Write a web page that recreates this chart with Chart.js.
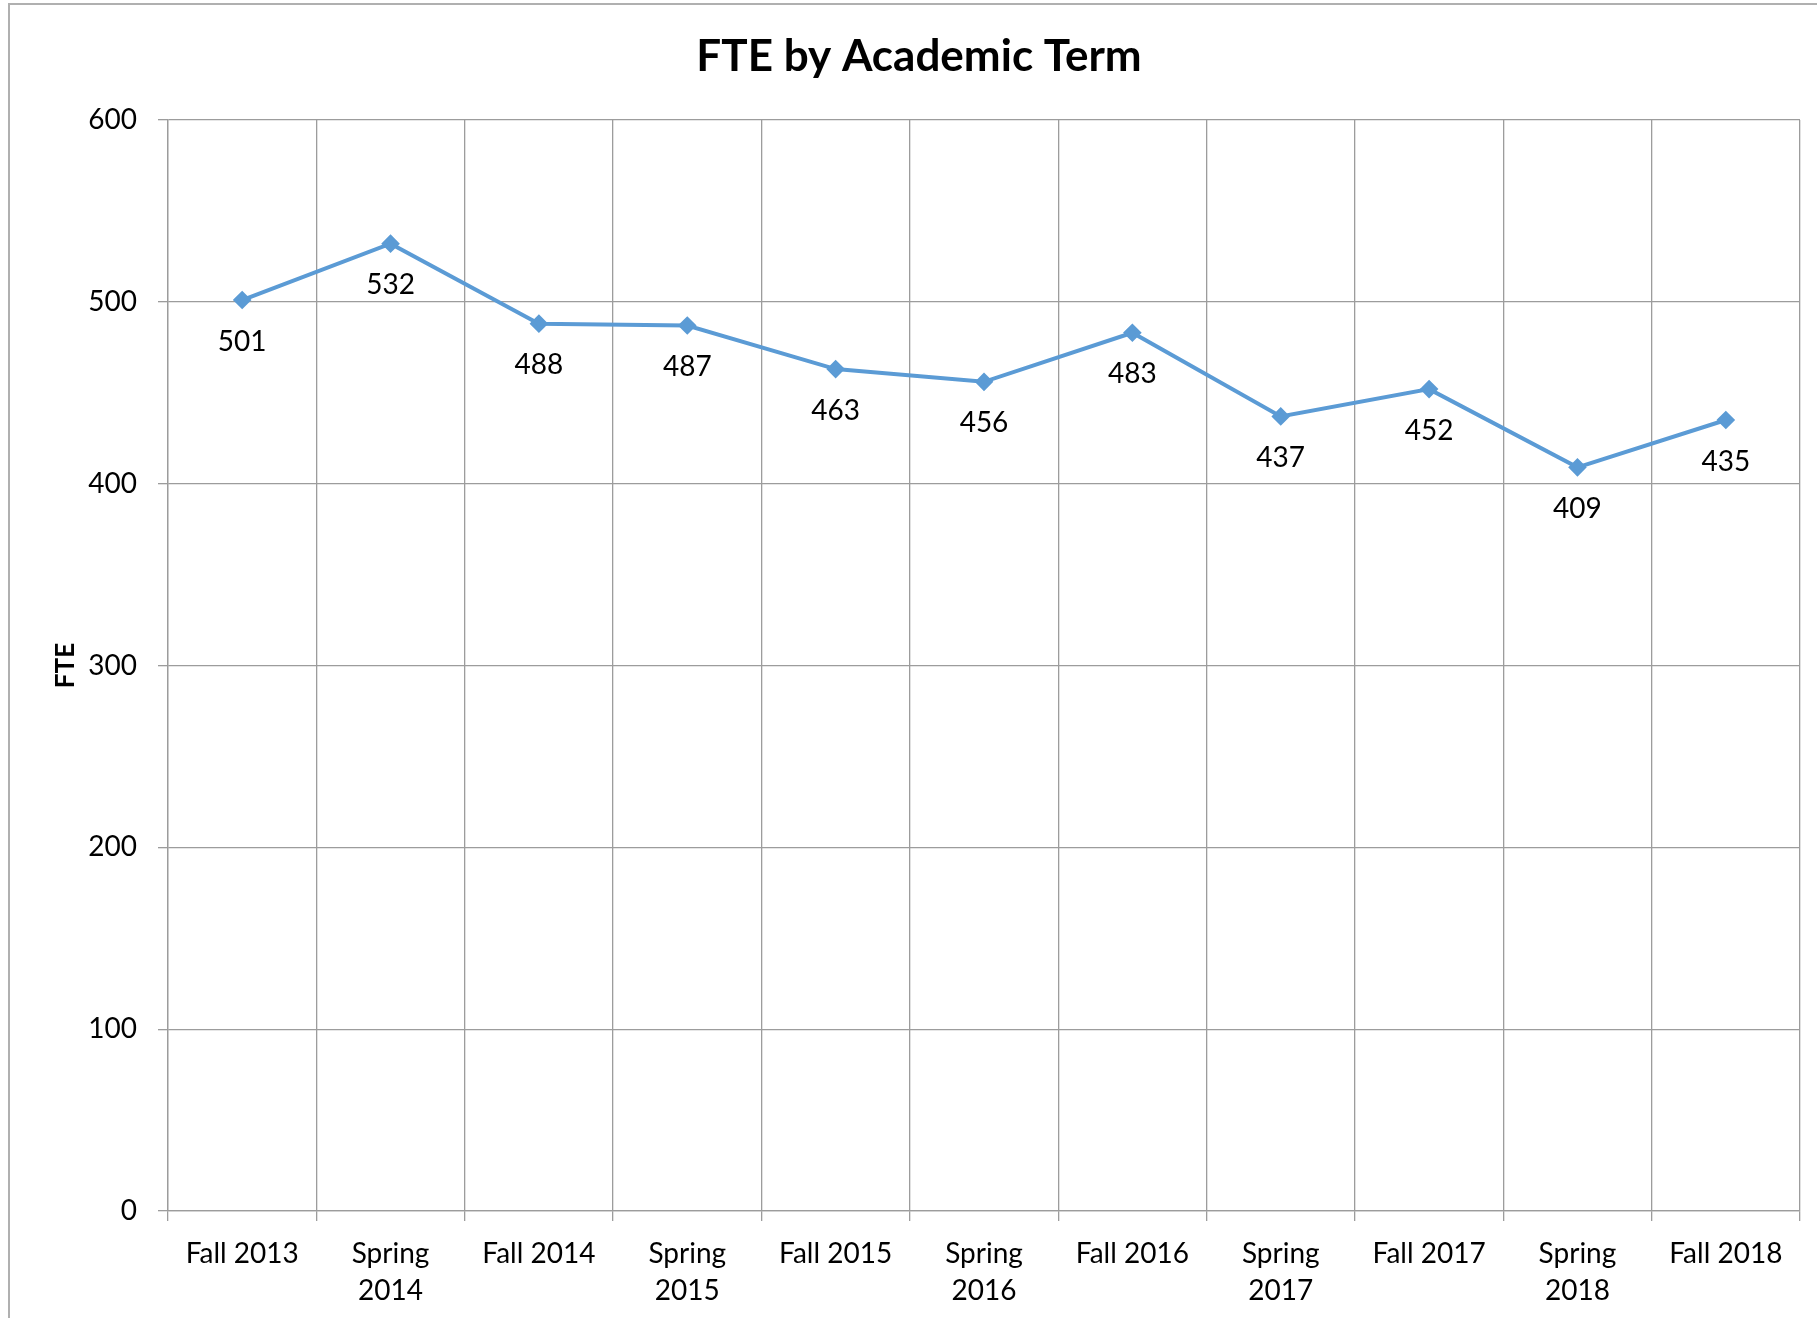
<!DOCTYPE html>
<html>
<head>
<meta charset="utf-8">
<script src="https://cdn.jsdelivr.net/npm/chart.js@4.4.1/dist/chart.umd.min.js"></script>
<style>
  html, body { margin: 0; padding: 0; background: #fff; }
  #wrap { width: 1817px; height: 1318px; position: relative; }
</style>
</head>
<body>
<div id="wrap"><canvas id="c"></canvas></div>
<script>
const categories = [
  "Fall 2013", ["Spring", "2014"], "Fall 2014", ["Spring", "2015"], "Fall 2015",
  ["Spring", "2016"], "Fall 2016", ["Spring", "2017"], "Fall 2017", ["Spring", "2018"], "Fall 2018"
];
const fteValues = [501, 532, 488, 487, 463, 456, 483, 437, 452, 409, 435];
const yTicks = [0, 100, 200, 300, 400, 500, 600];

const FONT = "Lato, 'Open Sans', sans-serif";
const GRID = "#9c9c9c";
const LINE = "#5b9bd5";

const frame = {
  id: "frame",
  beforeDraw(chart) {
    const ctx = chart.ctx;
    ctx.save();
    ctx.strokeStyle = "#b0b0b0";
    ctx.lineWidth = 2;
    ctx.beginPath();
    ctx.moveTo(9, 1318);
    ctx.lineTo(9, 4);
    ctx.lineTo(1817, 4);
    ctx.stroke();
    ctx.restore();
  }
};

const valueLabels = {
  id: "valueLabels",
  afterDatasetsDraw(chart) {
    const ctx = chart.ctx;
    const meta = chart.getDatasetMeta(0);
    const data = chart.data.datasets[0].data;
    ctx.save();
    ctx.font = "28px " + FONT;
    ctx.fillStyle = "#000";
    ctx.textAlign = "center";
    ctx.textBaseline = "middle";
    meta.data.forEach((pt, i) => {
      ctx.fillText(String(data[i]), pt.x, pt.y + 41.5);
    });
    ctx.restore();
  }
};

new Chart(document.getElementById("c"), {
  type: "line",
  data: {
    labels: categories,
    datasets: [{
      label: "FTE",
      data: fteValues,
      borderColor: LINE,
      backgroundColor: LINE,
      borderWidth: 4,
      pointStyle: "rectRot",
      pointRadius: 6.5,
      pointHoverRadius: 6.5,
      pointBackgroundColor: LINE,
      pointBorderColor: LINE,
      tension: 0,
      fill: false
    }]
  },
  options: {
    responsive: true,
    maintainAspectRatio: false,
    animation: false,
    layout: { padding: { left: 38, right: 17, top: 0, bottom: 0 } },
    plugins: {
      legend: { display: false },
      tooltip: { enabled: false },
      title: {
        display: true,
        text: "FTE by Academic Term",
        color: "#000",
        font: { family: FONT, size: 44, weight: "bold", lineHeight: 1.2 },
        padding: { top: 30.6, bottom: 36.6 }
      }
    },
    scales: {
      x: {
        offset: true,
        grid: { offset: true, color: GRID, lineWidth: 1.3, tickLength: 10, drawTicks: true },
        border: { color: GRID, width: 1.3 },
        ticks: {
          color: "#000",
          font: { family: FONT, size: 28, lineHeight: 1.34 },
          padding: 14,
          maxRotation: 0,
          autoSkip: false
        },
        afterFit(scale) { scale.height = 107; }
      },
      y: {
        min: 0,
        max: 600,
        afterBuildTicks(scale) { scale.ticks = yTicks.map(v => ({ value: v })); },
        grid: { color: GRID, lineWidth: 1.3, tickLength: 10 },
        border: { color: GRID, width: 1.3 },
        ticks: {
          color: "#000",
          font: { family: FONT, size: 28 },
          padding: 21
        },
        title: {
          display: true,
          text: "FTE",
          color: "#000",
          font: { family: FONT, size: 26, weight: "bold", lineHeight: 1.2 },
          padding: { top: 12.4, bottom: 0 }
        },
        afterFit(scale) { scale.width = 130; }
      }
    }
  },
  plugins: [frame, valueLabels]
});
</script>
</body>
</html>
